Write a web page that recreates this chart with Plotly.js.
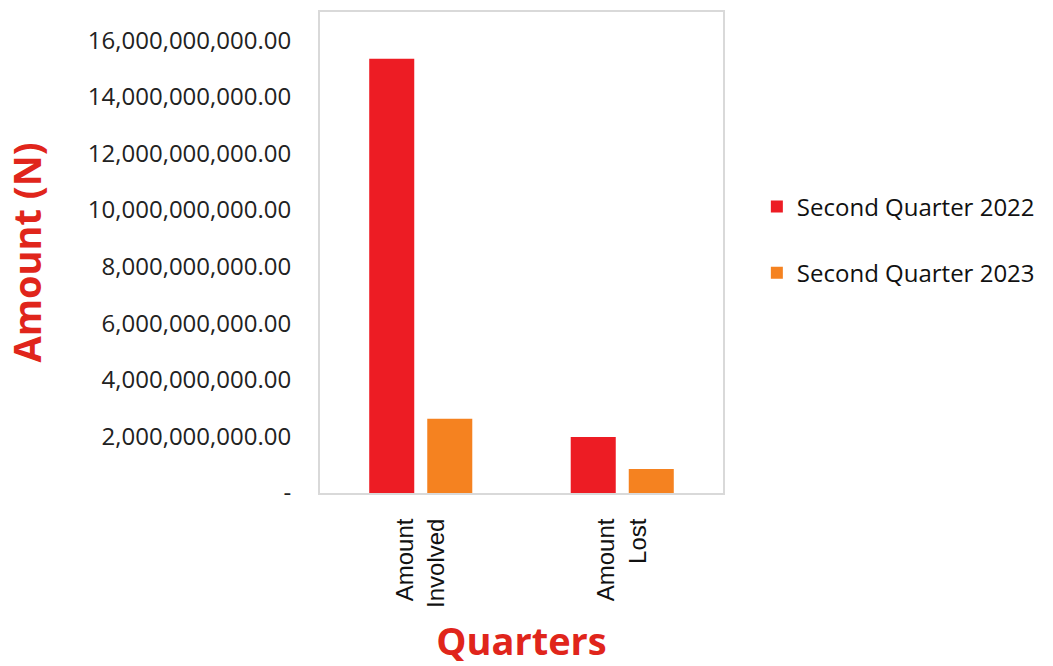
<!DOCTYPE html>
<html>
<head>
<meta charset="utf-8">
<script src="https://cdn.plot.ly/plotly-3.0.1.min.js"></script>
<style>html,body{margin:0;padding:0;background:#fff;}#chart{width:1053px;height:666px;}</style>
</head>
<body>
<div id="chart"></div>
<script>
const categories = ["Amount<br>Involved", "Amount<br>Lost"];
const seriesNames = ["Second Quarter 2022", "Second Quarter 2023"];
const q2_2022 = [15350000000, 1980000000];
const q2_2023 = [2620000000, 850000000];
const yTickVals = [0, 2e9, 4e9, 6e9, 8e9, 10e9, 12e9, 14e9, 16e9];
const yTickText = ["-", "2,000,000,000.00", "4,000,000,000.00", "6,000,000,000.00", "8,000,000,000.00",
  "10,000,000,000.00", "12,000,000,000.00", "14,000,000,000.00", "16,000,000,000.00"];

const traces = [
  {type: 'bar', name: seriesNames[0], x: categories, y: q2_2022, marker: {color: '#ed1c24'}, legendgroup: 'a'},
  {type: 'bar', name: seriesNames[1], x: categories, y: q2_2023, marker: {color: '#f58220'}, legendgroup: 'b'}
];

const layout = {
  width: 1053, height: 666,
  margin: {l: 320, r: 330, t: 12, b: 173},
  paper_bgcolor: '#fff', plot_bgcolor: '#fff',
  barmode: 'group', bargap: 0.424, bargroupgap: 0.224,
  font: {family: 'Open Sans, sans-serif', color: '#222'},
  showlegend: true,
  legend: {x: 1.084, y: 0.526, xanchor: 'left', yanchor: 'middle', traceorder: 'grouped', tracegroupgap: 32,
    font: {size: 24, color: '#111', family: 'Open Sans, sans-serif'}},
  xaxis: {
    showline: true, linecolor: '#d9d9d9', linewidth: 2, mirror: true,
    tickangle: -90, tickfont: {family: 'Liberation Sans, Arial, sans-serif', size: 24, color: '#111'},
    ticks: '', ticklabelstandoff: 14,
    title: {text: 'Quarters', font: {size: 38, color: '#e0251b', family: 'Open Sans, sans-serif', weight: 'bold'}, standoff: 30},
    automargin: false
  },
  yaxis: {
    range: [0, 17e9], tickvals: yTickVals, ticktext: yTickText,
    showgrid: false, zeroline: false,
    showline: true, linecolor: '#d9d9d9', linewidth: 2, mirror: true,
    tickfont: {size: 24, color: '#222'}, ticks: '', ticklabelstandoff: 22,
    title: {text: 'Amount (N)', font: {size: 38, color: '#e0251b', family: 'Open Sans, sans-serif', weight: 'bold'}, standoff: 36},
    automargin: false
  }
};

Plotly.newPlot('chart', traces, layout, {displayModeBar: false, staticPlot: true});
</script>
</body>
</html>
